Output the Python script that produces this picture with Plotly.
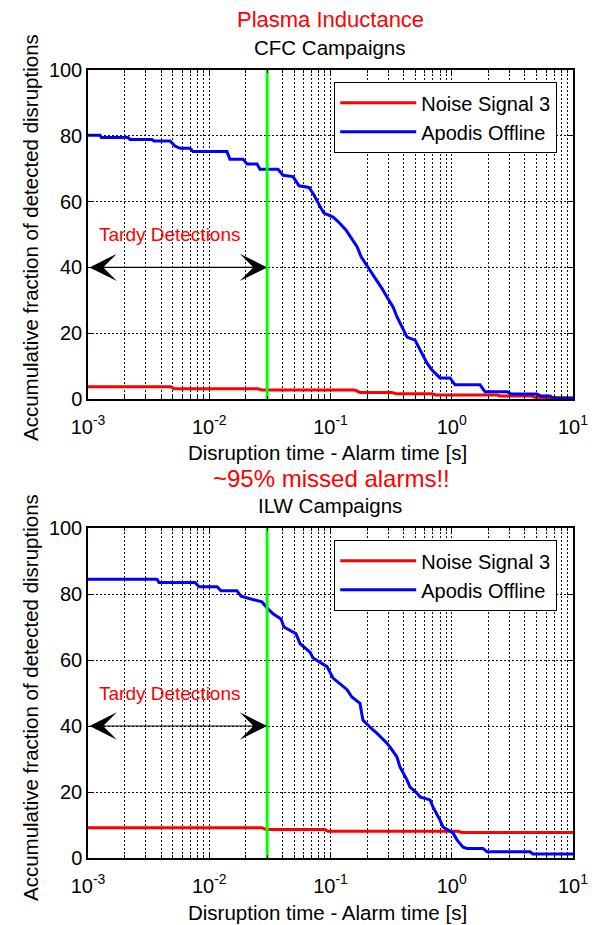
import math
import plotly.graph_objects as go

# ---------------- data ----------------
# Top panel: CFC campaigns
cfc_apodis_x = [0.001, 0.001256, 0.00129, 0.00214, 0.00222, 0.00337, 0.00350, 0.00475, 0.00522, 0.00574,
                0.00694, 0.00735, 0.0140, 0.0148, 0.0190, 0.0205, 0.0248, 0.0262, 0.0369, 0.0406,
                0.0491, 0.0550, 0.0665, 0.0731, 0.0835, 0.0884, 0.105, 0.115, 0.134, 0.148,
                0.166, 0.179, 0.212, 0.229, 0.271, 0.292, 0.328, 0.353, 0.396, 0.428,
                0.498, 0.547, 0.625, 0.687, 0.800, 0.968, 1.064, 1.71, 1.88, 2.86,
                3.08, 5.05, 5.45, 6.46, 6.97, 10.0]
cfc_apodis_y = [80.2, 80.2, 79.5, 79.5, 78.9, 78.9, 78.4, 78.4, 76.9, 76.2,
                76.2, 75.2, 75.2, 72.9, 72.9, 71.4, 71.4, 69.8, 69.8, 68.0,
                67.6, 64.8, 64.3, 62.0, 58.0, 56.5, 55.3, 54.0, 51.4, 49.0,
                46.2, 43.2, 39.2, 37.1, 33.1, 31.0, 28.0, 25.0, 21.0, 18.8,
                17.9, 14.9, 10.9, 8.8, 6.4, 6.4, 4.3, 4.3, 2.2, 2.2,
                1.5, 1.5, 0.9, 0.9, 0.2, 0.2]

cfc_noise_x = [0.001, 0.00484, 0.00512, 0.0252, 0.0272, 0.159, 0.175, 0.321, 0.347, 0.687,
               0.741, 2.36, 2.50, 4.59, 4.86, 10.0]
cfc_noise_y = [3.7, 3.7, 3.1, 3.1, 2.7, 2.7, 2.0, 2.0, 1.6, 1.6,
               1.2, 1.2, 0.9, 0.9, 0.5, 0.3]

# Bottom panel: ILW campaigns
ilw_apodis_x = [0.001, 0.00371, 0.00385, 0.00763, 0.00823, 0.0116, 0.0125, 0.0169, 0.0183, 0.0230,
                0.0272, 0.0305, 0.0336, 0.0391, 0.0413, 0.0519, 0.0560, 0.0677, 0.0718, 0.0936,
                0.105, 0.137, 0.150, 0.175, 0.185, 0.224, 0.240, 0.292, 0.310, 0.353,
                0.374, 0.428, 0.453, 0.517, 0.547, 0.662, 0.700, 0.800, 0.847, 1.024,
                1.104, 1.24, 1.34, 1.81, 1.95, 4.42, 4.68, 10.0]
ilw_apodis_y = [84.5, 84.5, 83.5, 83.5, 82.2, 82.2, 81.0, 81.0, 79.3, 78.4,
                77.6, 75.5, 74.0, 72.4, 70.0, 68.0, 65.0, 62.4, 60.6, 58.0,
                54.5, 51.0, 48.8, 46.9, 41.8, 38.8, 37.9, 34.8, 33.6, 30.6,
                27.6, 23.6, 21.5, 19.7, 18.5, 17.6, 15.5, 11.5, 9.4, 7.6,
                5.5, 3.3, 2.9, 2.9, 1.9, 1.9, 1.2, 1.2]

ilw_noise_x = [0.001, 0.0272, 0.0294, 0.0901, 0.0953, 1.13, 1.22, 10.0]
ilw_noise_y = [9.2, 9.2, 8.6, 8.6, 8.1, 8.1, 7.7, 7.7]

alarm_limit = 0.03          # [s] vertical green line
arrow_level = 40            # y level of the "Tardy Detections" arrow
x_range = [0.001, 10.0]
y_range = [0, 100]

x_tick_vals = [0.001, 0.01, 0.1, 1, 10]
x_tick_text = ["10<sup>-3</sup>", "10<sup>-2</sup>", "10<sup>-1</sup>", "10<sup>0</sup>", "10<sup>1</sup>"]
x_minor_vals = [m * d for d in [0.001, 0.01, 0.1, 1] for m in range(2, 10)]
y_tick_vals = [0, 20, 40, 60, 80, 100]

series_names = ["Noise Signal 3", "Apodis Offline"]
series_colors = ["#ff0000", "#0000ff"]

# ---------------- figure ----------------
W, H = 594, 925
FONT = "Liberation Sans, Arial, Helvetica, sans-serif"

def px_x(p):
    return p / W

def px_y(p):
    return 1 - p / H

fig = go.Figure()

panels = [
    (cfc_noise_x, cfc_noise_y, cfc_apodis_x, cfc_apodis_y, "x", "y", "legend"),
    (ilw_noise_x, ilw_noise_y, ilw_apodis_x, ilw_apodis_y, "x2", "y2", "legend2"),
]
for nx, ny, ax_, ay_, xa, ya, lg in panels:
    fig.add_trace(go.Scatter(x=nx, y=ny, mode="lines", name=series_names[0],
                             line=dict(color=series_colors[0], width=3),
                             xaxis=xa, yaxis=ya, legend=lg))
    fig.add_trace(go.Scatter(x=ax_, y=ay_, mode="lines", name=series_names[1],
                             line=dict(color=series_colors[1], width=3),
                             xaxis=xa, yaxis=ya, legend=lg))
    fig.add_trace(go.Scatter(x=[alarm_limit, alarm_limit], y=y_range, mode="lines",
                             line=dict(color="#00ff00", width=3), showlegend=False,
                             xaxis=xa, yaxis=ya, hoverinfo="skip"))

xdom = [px_x(88), px_x(573)]
grid = dict(showgrid=True, gridcolor="#111111", gridwidth=1, griddash="2px,2px")
xcommon = dict(type="log", range=[math.log10(x_range[0]), math.log10(x_range[1])],
               tickmode="array", tickvals=x_tick_vals, ticktext=x_tick_text,
               ticks="inside", ticklen=6, tickcolor="black", showline=True,
               linecolor="black", linewidth=1.5, mirror="ticks", zeroline=False,
               ticklabelstandoff=9,
               tickfont=dict(size=20, color="black", family=FONT),
               minor=dict(tickmode="array", tickvals=x_minor_vals, showgrid=True,
                          gridcolor="#111111", gridwidth=1, griddash="2px,2px",
                          ticks="inside", ticklen=3, tickcolor="black"),
               automargin=False, domain=xdom, **grid)
ycommon = dict(range=y_range, tickmode="array", tickvals=y_tick_vals,
               ticks="inside", ticklen=6, tickcolor="black", showline=True,
               linecolor="black", linewidth=1.5, mirror="ticks", zeroline=False,
               tickfont=dict(size=20, color="black", family=FONT),
               automargin=False, **grid)

legend_common = dict(xanchor="left", yanchor="top", bgcolor="white",
                     bordercolor="black", borderwidth=1.2,
                     font=dict(size=20, color="black", family=FONT),
                     itemwidth=76, tracegroupgap=0)

fig.update_layout(
    width=W, height=H, margin=dict(l=0, r=0, t=0, b=0),
    paper_bgcolor="white", plot_bgcolor="white",
    font=dict(family=FONT, color="black"),
    xaxis=dict(anchor="y", **xcommon),
    yaxis=dict(anchor="x", domain=[px_y(399), px_y(70)], **ycommon),
    xaxis2=dict(anchor="y2", **xcommon),
    yaxis2=dict(anchor="x2", domain=[px_y(858), px_y(528)], **ycommon),
    legend=dict(x=px_x(334), y=px_y(82), **legend_common),
    legend2=dict(x=px_x(334), y=px_y(540), **legend_common),
    showlegend=True,
)

ann = []
def text(s, x, y, size, color="black", angle=0):
    ann.append(dict(text=s, x=px_x(x), y=px_y(y), xref="paper", yref="paper",
                    showarrow=False, xanchor="center", yanchor="middle",
                    textangle=angle, font=dict(size=size, color=color, family=FONT)))

text("Plasma Inductance", 330, 19, 22, "#ff0000")
text("CFC Campaigns", 330, 47, 20.5)
text("Disruption time - Alarm time [s]", 327, 452, 20.5)
text("~95% missed alarms!!", 331, 478, 24, "#ff0000")
text("ILW Campaigns", 330, 505, 20.5)
text("Disruption time - Alarm time [s]", 327, 912, 20.5)
text("Accumulative fraction of detected disruptions", 30, 238, 20.5, angle=-90)
text("Accumulative fraction of detected disruptions", 30, 698, 20.5, angle=-90)

for xr, yr in [("x", "y"), ("x2", "y2")]:
    ann.append(dict(text="Tardy Detections", x=math.log10(x_range[0]) + 0.075, y=arrow_level + 10,
                    xref=xr, yref=yr, showarrow=False, xanchor="left", yanchor="middle",
                    font=dict(size=19, color="#ff0000", family=FONT)))
    ann.append(dict(text="", x=math.log10(alarm_limit), y=arrow_level,
                    ax=math.log10(x_range[0]), ay=arrow_level,
                    xref=xr, yref=yr, axref=xr, ayref=yr,
                    showarrow=True, arrowside="end+start",
                    arrowhead=3, arrowsize=3.8,
                    startarrowhead=3, startarrowsize=3.8,
                    arrowwidth=1.2, arrowcolor="black"))

fig.update_layout(annotations=ann)
fig.write_html("out.html")
